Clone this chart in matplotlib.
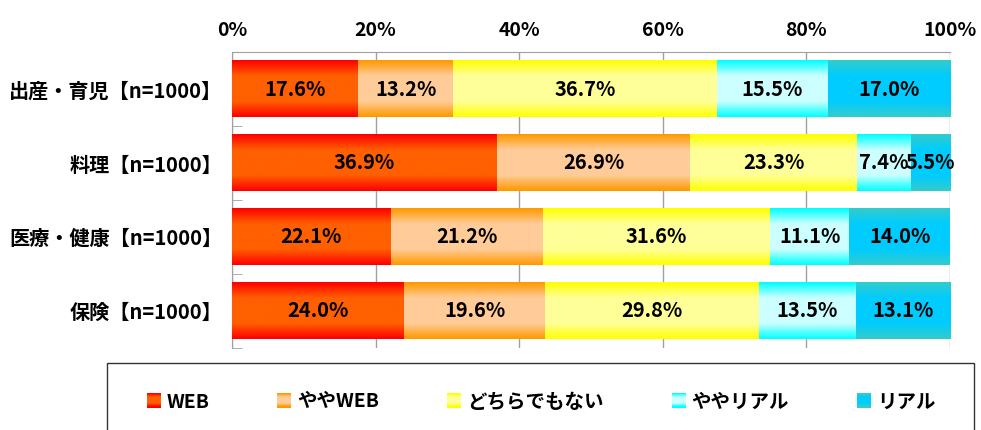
import numpy as np
import matplotlib
matplotlib.use('Agg')
import matplotlib.pyplot as plt
from matplotlib.colors import to_rgb
from matplotlib.patches import Rectangle
from matplotlib.legend_handler import HandlerBase

plt.rcParams['font.family'] = ['Noto Sans CJK JP', 'DejaVu Sans']
plt.rcParams['font.weight'] = 'bold'

# data
categories = ['出産・育児【n=1000】', '料理【n=1000】', '医療・健康【n=1000】', '保険【n=1000】']
series_names = ['WEB', 'ややWEB', 'どちらでもない', 'ややリアル', 'リアル']
web = [17.6, 36.9, 22.1, 24.0]
yaya_web = [13.2, 26.9, 21.2, 19.6]
neutral = [36.7, 23.3, 31.6, 29.8]
yaya_real = [15.5, 7.4, 11.1, 13.5]
real = [17.0, 5.5, 14.0, 13.1]
x_ticks = [0, 20, 40, 60, 80, 100]

# gradient colours: (edge, centre)
grad_colors = [
    ('#FF0000', '#FF6000'),
    ('#FF9900', '#FFCC99'),
    ('#FFFF00', '#FFFF99'),
    ('#00FFFF', '#CCFFFF'),
    ('#33CCCC', '#00CCFF'),
]


def gradient_img(edge, centre, n=64):
    t = np.abs(np.linspace(-1, 1, n))
    t = np.clip((t - 0.45) / 0.55, 0, 1)[:, None]
    e = np.array(to_rgb(edge))
    c = np.array(to_rgb(centre))
    img = c + (e - c) * t
    return img[:, None, :]


class HandlerGradient(HandlerBase):
    def __init__(self, edge, centre):
        super().__init__()
        self.edge = edge
        self.centre = centre

    def create_artists(self, legend, orig_handle, xdescent, ydescent,
                       width, height, fontsize, trans):
        img = gradient_img(self.edge, self.centre, 14)[:, 0, :]
        n = len(img)
        arts = []
        for i, col in enumerate(img):
            r = Rectangle((-xdescent, -ydescent + height * (n - 1 - i) / n),
                          width, height / n + 0.3, facecolor=col,
                          edgecolor='none', transform=trans)
            arts.append(r)
        return arts


fig = plt.figure(figsize=(9.81, 4.30), dpi=100)
ax = fig.add_axes([0.2365, 0.191, 0.7319, 0.688])

y = np.arange(len(categories))
left = np.zeros(len(categories))
series = [web, yaya_web, neutral, yaya_real, real]
handles = []
for vals, name, (edge, centre) in zip(series, series_names, grad_colors):
    bars = ax.barh(y, vals, left=left, height=0.77, facecolor='none',
                   edgecolor='none', label=name, zorder=3)
    img = gradient_img(edge, centre)
    for b, v in zip(bars, vals):
        x0, y0, w, h = b.get_x(), b.get_y(), b.get_width(), b.get_height()
        ax.imshow(img, extent=[x0, x0 + w, y0 + h, y0], aspect='auto',
                  interpolation='bilinear', zorder=3)
        ax.text(x0 + w / 2, y0 + h / 2, f'{v:.1f}%', ha='center',
                va='center', fontsize=14.5, fontweight='bold', zorder=4)
    handles.append(bars)
    left += np.array(vals)

ax.set_xlim(0, 100)
ax.set_ylim(3.5, -0.5)
ax.set_xticks(x_ticks)
ax.set_xticklabels([f'{t}%' for t in x_ticks], fontsize=14, fontweight='bold')
ax.xaxis.tick_top()
ax.tick_params(axis='x', length=0, pad=9)
ax.grid(axis='x', color='#A0A0A0', linewidth=1, zorder=0)

ax.set_yticks(y)
ax.set_yticklabels(categories, fontsize=14.5, fontweight='bold')
ax.set_yticks(np.arange(-0.5, len(categories)), minor=True)
ax.tick_params(axis='y', which='major', length=0, pad=7)
ax.tick_params(axis='y', which='minor', direction='in', length=7,
               color='#A0A0A0')

for s in ['bottom', 'right']:
    ax.spines[s].set_visible(False)
for s in ['top', 'left']:
    ax.spines[s].set_color('#A0A0A0')

# legend box
fig.patches.append(Rectangle((107 / 981, -0.02), (974 - 107) / 981,
                             0.156 + 0.02, transform=fig.transFigure,
                             facecolor='none', edgecolor='#333333',
                             linewidth=1))
hmap = {h: HandlerGradient(e, c) for h, (e, c) in zip(handles, grad_colors)}
fig.legend(handles, series_names, loc='center',
           bbox_to_anchor=(541 / 981, 1 - 402 / 430), ncol=5, frameon=False,
           prop={'size': 14, 'weight': 'bold'}, handler_map=hmap,
           handlelength=0.72, handleheight=0.72, handletextpad=0.3,
           columnspacing=3.5)

fig.savefig('out.png', dpi=100)
